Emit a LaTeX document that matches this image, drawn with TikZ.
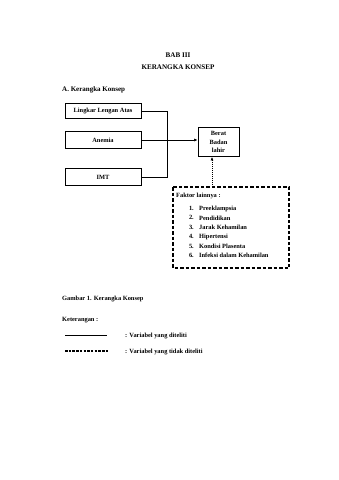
\documentclass[tikz,border=0pt]{standalone}
\usepackage{fontspec}
\setmainfont{Liberation Serif}
\usetikzlibrary{arrows.meta}
\begin{document}
\begin{tikzpicture}[x=1pt,y=-1pt,
  every node/.style={font=\fontsize{6.4}{7.6}\selectfont\bfseries, inner sep=0pt},
  vbox/.style={draw, line width=0.8pt, minimum width=76pt, minimum height=15pt},
  conn/.style={line width=0.6pt},
  arr/.style={line width=0.6pt, -{Latex[length=3.5pt,width=3pt]}},
  dbox/.style={draw, line width=1.2pt, dash pattern=on 3.5pt off 2pt},
  txt/.style={anchor=west}]
\useasboundingbox (0,0) rectangle (339,480);
\node (t1) at (178,55) {\fontsize{7.1}{8}\selectfont BAB III};
\node (t2) at (178,67) {\fontsize{7.1}{8}\selectfont KERANGKA KONSEP};
\node[txt] (sec) at (62,90) {\fontsize{7}{8}\selectfont A. Kerangka Konsep};

\node[vbox] (lla) at (103,111) {Lingkar Lengan Atas};
\node[vbox, minimum height=17pt] (anm) at (103,140) {Anemia};
\node[vbox, minimum height=17pt] (imt) at (103,177) {IMT};
\node[draw, line width=0.8pt, minimum width=41pt, minimum height=29pt, align=center] (bbl) at (218.5,142) {Berat\\[0.5pt]Badan\\[0.5pt]lahir};

\coordinate (jx) at (167,0);
\coordinate (j1) at (lla.east -| jx);
\coordinate (j3) at (imt.east -| jx);
\draw[conn] (lla.east) -- (j1) -- (j3) -- (imt.east);
\draw[arr] (anm.east) -- (bbl.west|-anm.east);

\draw[dbox] (173,187) rectangle (289,268);
\coordinate (ftop) at (212,187);
\draw[arr, dash pattern=on 1.2pt off 0.8pt, line width=0.9pt] (ftop) -- (ftop |- bbl.south);

\node[txt] (fl) at (176,196) {Faktor lainnya :};
\foreach \i/\t [count=\k from 0] in {1/Preeklampsia,2/Pendidikan,3/Jarak Kehamilan,4/Hipertensi,5/Kondisi Plasenta,6/Infeksi dalam Kehamilan}{
  \node[anchor=east] (n\i) at (194,208.5+9.4*\k) {\i.};
  \node[txt] (f\i) at (199,208.5+9.4*\k) {\t};
}

\node[txt] (cap) at (62,299) {Gambar 1. Kerangka Konsep};
\node[txt] (ket) at (62,320) {Keterangan :};
\coordinate (s1) at (65,335);
\coordinate (s2) at (107,335);
\draw[line width=0.6pt] (s1) -- (s2);
\node[txt] (v1) at (125,336) {: Variabel yang diteliti};
\coordinate (d1) at (65,351);
\coordinate (d2) at (108,351);
\draw[line width=1.1pt, dash pattern=on 2.5pt off 1.2pt] (d1) -- (d2);
\node[txt] (v2) at (125,352) {: Variabel yang tidak diteliti};
\end{tikzpicture}
\end{document}
